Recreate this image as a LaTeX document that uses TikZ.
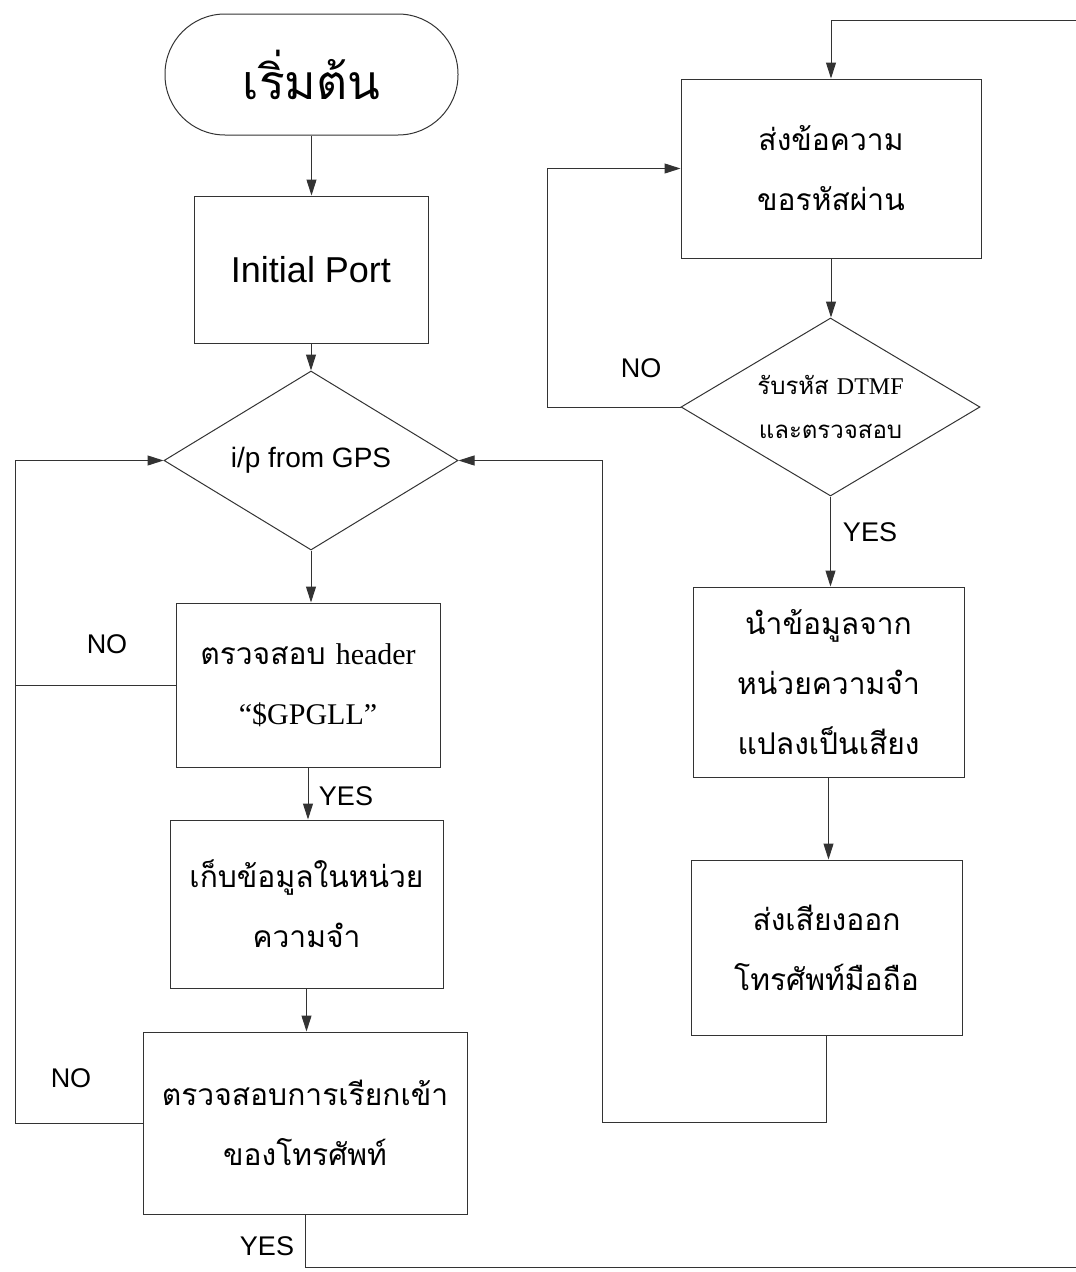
\documentclass[tikz,border=0pt]{standalone}
\usepackage{fontspec}
\setmainfont{Liberation Sans}
\newfontfamily\thai[Script=Thai]{Loma}
\newfontfamily\tserif{Liberation Serif}
\usetikzlibrary{shapes.geometric,arrows.meta}
\begin{document}
\begin{tikzpicture}[x=1pt,y=-1pt,
  line/.style={draw=black!80,line width=1pt},
  arr/.style={line,-{Triangle[length=16pt,width=10pt]}},
  box/.style={draw=black!80,line width=1pt,rectangle,inner sep=0pt,align=center},
  dec/.style={draw=black!80,line width=1pt,diamond,inner sep=0pt,align=center},
  lbl/.style={font=\fontsize{27}{30}\selectfont,inner sep=0pt},
  th/.style={font=\thai\fontsize{30}{60}\selectfont}]
\useasboundingbox (0,0) rectangle (1076,1272);
% left column
\node[box,rounded corners=60pt,minimum width=293pt,minimum height=121pt,font=\thai\fontsize{48}{50}\selectfont] (start) at (311.5,74.5) {เริ่มต้น};
\node[box,minimum width=234pt,minimum height=147pt,font=\fontsize{36}{40}\selectfont] (init) at (311,269.5) {Initial Port};
\node[dec,minimum width=294pt,minimum height=179pt,aspect=1.64,font=\fontsize{28}{30}\selectfont] (gps) at (311,460.5) {i/p from GPS};
\node[box,th,minimum width=264pt,minimum height=164pt] (header) at (308,685) {ตรวจสอบ {\tserif header}\\{\tserif “\$GPGLL”}};
\node[box,th,minimum width=273pt,minimum height=168pt] (store) at (306.5,904) {เก็บข้อมูลในหน่วย\\ความจำ};
\node[box,th,minimum width=324pt,minimum height=182pt] (call) at (305,1123) {ตรวจสอบการเรียกเข้า\\ของโทรศัพท์};
% right column
\node[box,th,minimum width=300pt,minimum height=179pt] (pwd) at (831,168.5) {ส่งข้อความ\\ขอรหัสผ่าน};
\node[dec,minimum width=299pt,minimum height=178pt,aspect=1.68,font=\thai\fontsize{24}{44}\selectfont] (dtmf) at (830.5,407) {รับรหัส {\tserif DTMF}\\และตรวจสอบ};
\node[box,th,minimum width=271pt,minimum height=190pt] (voice) at (828.5,682) {นำข้อมูลจาก\\หน่วยความจำ\\แปลงเป็นเสียง};
\node[box,th,minimum width=271pt,minimum height=175pt] (send) at (826.5,947.5) {ส่งเสียงออก\\โทรศัพท์มือถือ};
% labels
\node[lbl] (no1) at (107,644) {NO};
\node[lbl] (no2) at (71,1078) {NO};
\node[lbl] (no3) at (641,368) {NO};
\node[lbl] (yes1) at (346,796) {YES};
\node[lbl] (yes2) at (267,1246) {YES};
\node[lbl] (yes3) at (870,532) {YES};
% helper coordinates
\coordinate (lj) at (15,685);
% connectors
\draw[arr] (start.south) -- (start.south |- init.north);
\draw[arr] (init.south) -- (init.south |- gps.north);
\draw[arr] (gps.south) -- (gps.south |- header.north);
\draw[arr] (header.south) -- (header.south |- store.north);
\draw[arr] (store.south) -- (store.south |- call.north);
\draw[line] (header.west) -- (lj);
\draw[arr] (call.west) -- (15,1123) -- (15,460.5) -- (gps.west);
\draw[arr] (call.south) -- (305,1267) -- (1080,1267) -- (1080,20) -- (831,20) -- (pwd.north);
\draw[arr] (pwd.south) -- (pwd.south |- dtmf.north);
\draw[arr] (dtmf.west) -- (547,407) -- (547,168.5) -- (pwd.west);
\draw[arr] (dtmf.south) -- (dtmf.south |- voice.north);
\draw[arr] (voice.south) -- (voice.south |- send.north);
\draw[arr] (send.south) -- (826.5,1122) -- (602,1122) -- (602,460.5) -- (gps.east);
\end{tikzpicture}
\end{document}
